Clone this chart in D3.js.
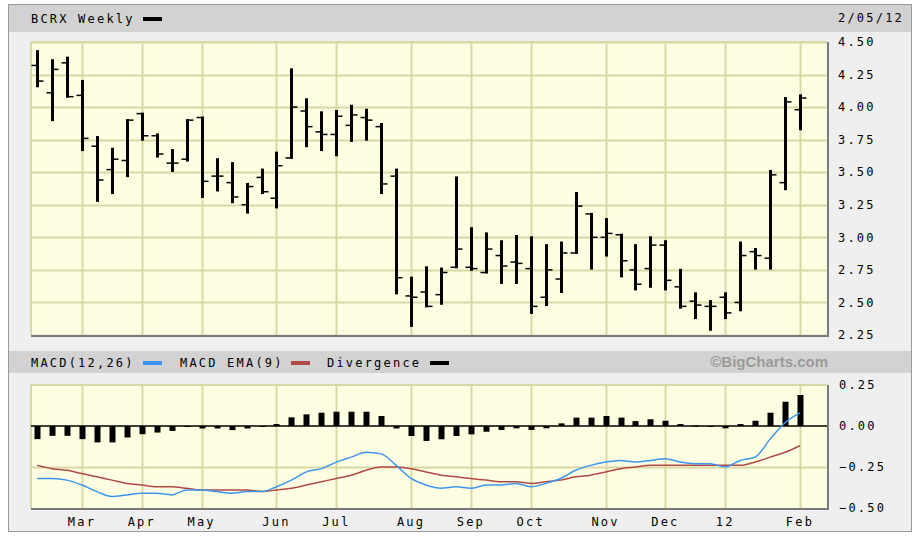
<!DOCTYPE html>
<html>

<head>
    <style>
        body {
            margin: 0;
            background: #ffffff;
        }

        .lbl {
            font-family: "DejaVu Sans Mono", monospace;
            font-size: 12px;
            letter-spacing: 2.2px;
            fill: #000;
        }
    </style>
    <script src="https://d3js.org/d3.v7.min.js" charset="utf-8"></script>
</head>

<body>
    <script>
        // weekly bars (Monday of each week)
        const weeks = [
            "2011-02-07", "2011-02-14", "2011-02-21", "2011-02-28", "2011-03-07", "2011-03-14", "2011-03-21",
            "2011-03-28", "2011-04-04", "2011-04-11", "2011-04-18", "2011-04-25", "2011-05-02", "2011-05-09",
            "2011-05-16", "2011-05-23", "2011-05-30", "2011-06-06", "2011-06-13", "2011-06-20", "2011-06-27",
            "2011-07-04", "2011-07-11", "2011-07-18", "2011-07-25", "2011-08-01", "2011-08-08", "2011-08-15",
            "2011-08-22", "2011-08-29", "2011-09-05", "2011-09-12", "2011-09-19", "2011-09-26", "2011-10-03",
            "2011-10-10", "2011-10-17", "2011-10-24", "2011-10-31", "2011-11-07", "2011-11-14", "2011-11-21",
            "2011-11-28", "2011-12-05", "2011-12-12", "2011-12-19", "2011-12-26", "2012-01-02", "2012-01-09",
            "2012-01-16", "2012-01-23", "2012-01-30"
        ];

        const open = [4.32, 4.11, 4.34, 4.09, 3.70, 3.52, 3.59, 3.95, 3.78, 3.57, 3.60, 3.92, 3.47, 3.42, 3.25, 3.46,
            3.30, 3.61, 3.97, 3.81, 3.79, 3.86, 3.92, 3.85, 3.47, 2.55, 2.58, 2.56, 2.77, 2.77, 2.73, 2.86, 2.81, 2.76,
            2.54, 2.68, 2.88, 3.18, 3.00, 3.02, 2.75, 2.76, 2.94, 2.62, 2.51, 2.47, 2.54, 2.50, 2.89, 2.84, 3.42, 3.98];
        const high = [4.43, 4.36, 4.38, 4.20, 3.77, 3.68, 3.90, 3.95, 3.79, 3.67, 3.90, 3.92, 3.60, 3.57, 3.41, 3.52,
            3.65, 4.29, 4.06, 3.96, 3.97, 4.01, 3.98, 3.87, 3.52, 2.69, 2.77, 2.76, 3.46, 3.07, 3.03, 2.97, 3.01, 3.00,
            2.94, 2.96, 3.34, 3.18, 3.14, 3.02, 2.94, 3.00, 2.97, 2.75, 2.57, 2.51, 2.57, 2.96, 2.91, 3.51, 4.07, 4.09];
        const low = [4.16, 3.90, 4.08, 3.67, 3.28, 3.34, 3.47, 3.75, 3.62, 3.51, 3.59, 3.31, 3.36, 3.27, 3.19, 3.34,
            3.23, 3.61, 3.70, 3.67, 3.63, 3.74, 3.75, 3.34, 2.57, 2.32, 2.47, 2.49, 2.77, 2.75, 2.73, 2.65, 2.65, 2.42,
            2.48, 2.58, 2.88, 2.76, 2.86, 2.70, 2.60, 2.62, 2.60, 2.46, 2.38, 2.29, 2.38, 2.44, 2.76, 2.76, 3.37, 3.83];
        const close = [4.20, 4.29, 4.08, 3.76, 3.44, 3.60, 3.90, 3.78, 3.64, 3.57, 3.90, 3.43, 3.47, 3.31, 3.39, 3.35,
            3.55, 4.00, 3.85, 3.79, 3.93, 3.94, 3.90, 3.41, 2.69, 2.54, 2.47, 2.73, 2.91, 2.76, 2.91, 2.78, 2.80, 2.47,
            2.75, 2.88, 3.24, 3.00, 3.03, 2.82, 2.64, 2.94, 2.67, 2.47, 2.48, 2.47, 2.42, 2.86, 2.86, 3.48, 4.04, 4.07];

        const macd = [-0.32, -0.32, -0.33, -0.36, -0.40, -0.43, -0.42, -0.41, -0.41, -0.42, -0.39, -0.39, -0.40, -0.41,
            -0.40, -0.40, -0.37, -0.33, -0.28, -0.26, -0.22, -0.19, -0.16, -0.17, -0.24, -0.32, -0.36, -0.38, -0.37,
            -0.38, -0.36, -0.36, -0.35, -0.37, -0.35, -0.32, -0.27, -0.24, -0.22, -0.21, -0.22, -0.21, -0.20, -0.22,
            -0.23, -0.23, -0.25, -0.21, -0.19, -0.08, 0.02, 0.08];
        const signal = [-0.24, -0.26, -0.27, -0.29, -0.31, -0.33, -0.35, -0.36, -0.37, -0.37, -0.38, -0.39, -0.39, -0.39,
            -0.39, -0.40, -0.39, -0.38, -0.36, -0.34, -0.32, -0.30, -0.27, -0.25, -0.25, -0.26, -0.28, -0.30, -0.31,
            -0.32, -0.33, -0.34, -0.34, -0.35, -0.34, -0.33, -0.31, -0.30, -0.28, -0.26, -0.25, -0.24, -0.24, -0.24,
            -0.24, -0.24, -0.24, -0.24, -0.22, -0.19, -0.16, -0.12];
        const divergence = [-0.08, -0.06, -0.06, -0.08, -0.10, -0.10, -0.07, -0.05, -0.04, -0.03, -0.003, -0.015, -0.015,
            -0.025, -0.015, -0.002, 0.012, 0.053, 0.071, 0.081, 0.087, 0.087, 0.087, 0.061, -0.015, -0.061, -0.091,
            -0.081, -0.061, -0.051, -0.035, -0.024, -0.014, -0.024, -0.014, 0.016, 0.051, 0.051, 0.061, 0.051, 0.030,
            0.041, 0.032, 0.012, 0.002, -0.001, -0.014, 0.012, 0.032, 0.081, 0.148, 0.189];

        // month gridlines sit on the bar of the week holding the 1st
        const monthTicks = ["2011-02-28", "2011-03-28", "2011-04-25", "2011-05-30", "2011-06-27", "2011-08-01",
            "2011-08-29", "2011-09-26", "2011-10-31", "2011-11-28", "2011-12-26", "2012-01-30"];
        const monthLabels = ["Mar", "Apr", "May", "Jun", "Jul", "Aug", "Sep", "Oct", "Nov", "Dec", "12", "Feb"];

        const priceTicks = [2.25, 2.50, 2.75, 3.00, 3.25, 3.50, 3.75, 4.00, 4.25, 4.50];
        const macdTicks = [-0.50, -0.25, 0.00, 0.25];

        const w = 915;
        const h = 536;
        const left = 31, right = 827;
        const pTop = 42, pBot = 335;
        const mTop = 385, mBot = 508;

        const parse = d3.timeParse("%Y-%m-%d");
        const dates = weeks.map(parse);

        const x = d3.scaleTime()
            .domain([parse("2011-02-28"), parse("2012-01-30")])
            .range([82, 800]);

        const yP = d3.scaleLinear().domain([2.25, 4.50]).range([pBot, pTop]);
        const yM = d3.scaleLinear().domain([-0.50, 0.25]).range([mBot, mTop]);

        const svg = d3.select("body")
            .append("svg")
            .attr("width", w)
            .attr("height", h);

        // frame
        svg.append("rect").attr("x", 8.5).attr("y", 4.5).attr("width", 903).attr("height", 527)
            .attr("fill", "#efefef").attr("stroke", "#9a9a9a");
        svg.append("rect").attr("x", 9).attr("y", 5).attr("width", 902).attr("height", 27).attr("fill", "#d2d2d2");
        svg.append("rect").attr("x", 9).attr("y", 351).attr("width", 902).attr("height", 22).attr("fill", "#d2d2d2");

        function panel(y0, y1, yScale, ticks) {
            const g = svg.append("g");
            g.append("rect").attr("x", left).attr("y", y0).attr("width", right - left).attr("height", y1 - y0)
                .attr("fill", "#fdfde2");
            g.selectAll(".hg").data(ticks).enter().append("line")
                .attr("x1", left).attr("x2", right)
                .attr("y1", (d) => Math.round(yScale(d)) + 0.5).attr("y2", (d) => Math.round(yScale(d)) + 0.5)
                .attr("stroke", "#d8d8a6").attr("stroke-width", 2);
            g.selectAll(".vg").data(monthTicks).enter().append("line")
                .attr("x1", (d) => Math.round(x(parse(d))) + 0.5).attr("x2", (d) => Math.round(x(parse(d))) + 0.5)
                .attr("y1", y0).attr("y2", y1)
                .attr("stroke", "#d8d8a6").attr("stroke-width", 2);
            g.append("line").attr("x1", left).attr("x2", left).attr("y1", y0).attr("y2", y1)
                .attr("stroke", "#d8d8a6").attr("stroke-width", 2);
            g.append("line").attr("x1", left).attr("x2", right).attr("y1", y0).attr("y2", y0)
                .attr("stroke", "#d8d8a6").attr("stroke-width", 2);
            // shadow edges
            g.append("line").attr("x1", left).attr("x2", right + 1).attr("y1", y1 + 1).attr("y2", y1 + 1)
                .attr("stroke", "#7a7a7a").attr("stroke-width", 2);
            g.append("line").attr("x1", right + 1).attr("x2", right + 1).attr("y1", y0).attr("y2", y1 + 2)
                .attr("stroke", "#7a7a7a").attr("stroke-width", 2);
        }

        panel(pTop, pBot, yP, priceTicks);
        panel(mTop, mBot, yM, [-0.25]);

        // price OHLC bars
        const bars = svg.append("g");
        dates.forEach((d, i) => {
            const cx = Math.round(x(d)) + 0.5;
            bars.append("line").attr("x1", cx).attr("x2", cx)
                .attr("y1", yP(high[i]) - 1).attr("y2", yP(low[i]) + 1)
                .attr("stroke", "#000").attr("stroke-width", 3);
            bars.append("line").attr("x1", cx - 6).attr("x2", cx)
                .attr("y1", yP(open[i])).attr("y2", yP(open[i]))
                .attr("stroke", "#000").attr("stroke-width", 1.5);
            bars.append("line").attr("x1", cx).attr("x2", cx + 6)
                .attr("y1", yP(close[i])).attr("y2", yP(close[i]))
                .attr("stroke", "#000").attr("stroke-width", 1.5);
        });

        // MACD histogram
        svg.selectAll(".div")
            .data(divergence)
            .enter()
            .append("rect")
            .attr("x", (d, i) => Math.round(x(dates[i])) - 2.5)
            .attr("width", 6)
            .attr("y", (d) => Math.min(yM(d), yM(0)))
            .attr("height", (d) => Math.max(1, Math.abs(yM(d) - yM(0))))
            .attr("fill", "#000");

        svg.append("line").attr("x1", left).attr("x2", right)
            .attr("y1", yM(0)).attr("y2", yM(0))
            .attr("stroke", "#000").attr("stroke-width", 1.5);

        const line = (vals) => d3.line()
            .x((d, i) => x(dates[i]))
            .y((d) => yM(d))
            .curve(d3.curveMonotoneX)(vals);

        svg.append("path").attr("d", line(signal))
            .attr("fill", "none").attr("stroke", "#b04a44").attr("stroke-width", 1.5);
        svg.append("path").attr("d", line(macd))
            .attr("fill", "none").attr("stroke", "#3c96f0").attr("stroke-width", 1.5);

        // axis labels
        svg.selectAll(".py").data(priceTicks).enter().append("text")
            .attr("class", "lbl")
            .attr("x", 838).attr("y", (d) => yP(d)).attr("dy", "0.35em")
            .text((d) => d3.format(".2f")(d));

        svg.selectAll(".my").data(macdTicks).enter().append("text")
            .attr("class", "lbl")
            .attr("x", (d) => d < 0 ? 839 : 839).attr("y", (d) => yM(d)).attr("dy", "0.35em")
            .text((d) => d3.format(".2f")(d).replace("-", "\u2212"));

        svg.selectAll(".mx").data(monthTicks).enter().append("text")
            .attr("class", "lbl")
            .attr("x", (d) => x(parse(d)))
            .attr("y", 522).attr("dy", "0.35em")
            .attr("text-anchor", "middle")
            .text((d, i) => monthLabels[i]);

        // headers and legends
        svg.append("text").attr("class", "lbl").attr("x", 31).attr("y", 19).attr("dy", "0.35em")
            .text("BCRX Weekly");
        svg.append("rect").attr("x", 143).attr("y", 17).attr("width", 19).attr("height", 4).attr("fill", "#000");
        svg.append("text").attr("class", "lbl").attr("x", 904).attr("y", 18).attr("dy", "0.35em")
            .attr("text-anchor", "end").text("2/05/12");

        const legend = [
            { label: "MACD(12,26)", x: 31, sx: 143, color: "#3c96f0" },
            { label: "MACD EMA(9)", x: 180, sx: 291, color: "#b04a44" },
            { label: "Divergence", x: 327, sx: 430, color: "#000" }
        ];
        legend.forEach((l) => {
            svg.append("text").attr("class", "lbl").attr("x", l.x).attr("y", 363).attr("dy", "0.35em").text(l.label);
            svg.append("rect").attr("x", l.sx).attr("y", 361).attr("width", 19).attr("height", 4).attr("fill", l.color);
        });

        svg.append("text").attr("x", 828).attr("y", 362).attr("dy", "0.35em")
            .attr("text-anchor", "end")
            .style("font-family", "'Liberation Sans', Arial, sans-serif")
            .style("font-weight", "bold").style("font-size", "15px")
            .attr("fill", "#9a9a9a")
            .text("\u00a9BigCharts.com");

    </script>
</body>

</html>
